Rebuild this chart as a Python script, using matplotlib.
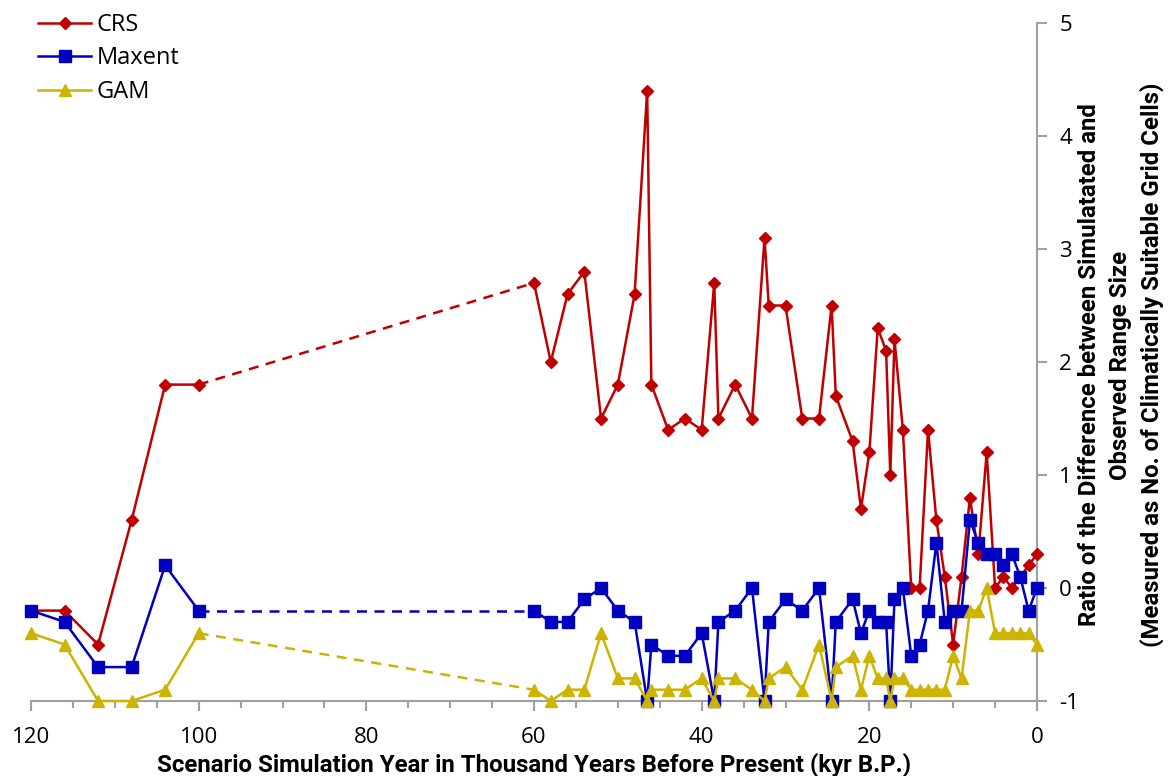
import matplotlib
matplotlib.use("Agg")
import matplotlib.pyplot as plt
import numpy as np

years = [120, 116, 112, 108, 104, 100, 60, 58, 56, 54, 52, 50, 48, 46.5, 46, 44, 42, 40,
         38.5, 38, 36, 34, 32.5, 32, 30, 28, 26, 24.5, 24, 22, 21, 20, 19, 18, 17.5, 17,
         16, 15, 14, 13, 12, 11, 10, 9, 8, 7, 6, 5, 4, 3, 2, 1, 0]

crs = [-0.2, -0.2, -0.5, 0.6, 1.8, 1.8, 2.7, 2.0, 2.6, 2.8, 1.5, 1.8, 2.6, 4.4, 1.8, 1.4, 1.5, 1.4,
       2.7, 1.5, 1.8, 1.5, 3.1, 2.5, 2.5, 1.5, 1.5, 2.5, 1.7, 1.3, 0.7, 1.2, 2.3, 2.1, 1.0, 2.2,
       1.4, 0.0, 0.0, 1.4, 0.6, 0.1, -0.5, 0.1, 0.8, 0.3, 1.2, 0.0, 0.1, 0.0, 0.1, 0.2, 0.3]

maxent = [-0.2, -0.3, -0.7, -0.7, 0.2, -0.2, -0.2, -0.3, -0.3, -0.1, 0.0, -0.2, -0.3, -1.0, -0.5, -0.6, -0.6, -0.4,
          -1.0, -0.3, -0.2, 0.0, -1.0, -0.3, -0.1, -0.2, 0.0, -1.0, -0.3, -0.1, -0.4, -0.2, -0.3, -0.3, -1.0, -0.1,
          0.0, -0.6, -0.5, -0.2, 0.4, -0.3, -0.2, -0.2, 0.6, 0.4, 0.3, 0.3, 0.2, 0.3, 0.1, -0.2, 0.0]

gam = [-0.4, -0.5, -1.0, -1.0, -0.9, -0.4, -0.9, -1.0, -0.9, -0.9, -0.4, -0.8, -0.8, -1.0, -0.9, -0.9, -0.9, -0.8,
       -1.0, -0.8, -0.8, -0.9, -1.0, -0.8, -0.7, -0.9, -0.5, -1.0, -0.7, -0.6, -0.9, -0.6, -0.8, -0.8, -1.0, -0.8,
       -0.8, -0.9, -0.9, -0.9, -0.9, -0.9, -0.6, -0.8, -0.2, -0.2, 0.0, -0.4, -0.4, -0.4, -0.4, -0.4, -0.5]

series_names = ["CRS", "Maxent", "GAM"]
x_ticks = [120, 100, 80, 60, 40, 20, 0]
y_ticks = [-1, 0, 1, 2, 3, 4, 5]

colors = {"CRS": "#C00000", "Maxent": "#0000C0", "GAM": "#CCB400"}
markers = {"CRS": ("D", 6.5), "Maxent": ("s", 8.5), "GAM": ("^", 9)}

plt.rcParams['font.family'] = ['Open Sans', 'DejaVu Sans']

fig = plt.figure(figsize=(11.72, 7.76), dpi=100)
ax = fig.add_axes([31 / 1172, 1 - 701 / 776, (1037 - 31) / 1172, (701 - 23) / 776])

yrs = np.array(years, dtype=float)
gap = int(np.argmax(np.abs(np.diff(yrs)) > 10))  # index before the gap

for name, vals in zip(series_names, [crs, maxent, gam]):
    v = np.array(vals, dtype=float)
    c = colors[name]
    m, ms = markers[name]
    ax.plot(yrs[:gap + 1], v[:gap + 1], color=c, lw=1.8, marker=m, ms=ms, clip_on=False, zorder=3)
    ax.plot(yrs[gap:gap + 2], v[gap:gap + 2], color=c, lw=1.8, ls=(0, (4, 3)), clip_on=False, zorder=2)
    ax.plot(yrs[gap + 1:], v[gap + 1:], color=c, lw=1.8, marker=m, ms=ms, clip_on=False, zorder=3,
            label=name)

ax.set_xlim(120, 0)
ax.set_ylim(-1, 5)
ax.set_xticks(x_ticks)
ax.set_xticks(np.arange(0, 121, 5), minor=True)
ax.set_yticks(y_ticks)

for s in ["top", "left"]:
    ax.spines[s].set_visible(False)
for s in ["bottom", "right"]:
    ax.spines[s].set_color("#A0A0A0")
    ax.spines[s].set_linewidth(1.5)

ax.yaxis.tick_right()
ax.tick_params(axis="both", which="both", color="#A0A0A0", width=1.5, labelsize=16, labelcolor="#000000")
ax.tick_params(axis="x", which="major", length=7, pad=12)
ax.tick_params(axis="x", which="minor", length=5)
ax.tick_params(axis="y", which="major", length=7, pad=9)
ax.set_yticklabels([str(t) for t in y_ticks])
ax.set_xticklabels([str(t) for t in x_ticks])

tfam = ['Roboto', 'DejaVu Sans']
ax.set_xlabel("Scenario Simulation Year in Thousand Years Before Present (kyr B.P.)",
              family=tfam, weight='bold', size=17.3, labelpad=3)
fig.text(1121 / 1172, 1 - 365 / 776,
         "Ratio of the Difference between Simulatated and\nObserved Range Size\n(Measured as No. of Climatically Suitable Grid Cells)",
         rotation=90, ha="center", va="center", multialignment="center", linespacing=1.4,
         family=tfam, weight="bold", size=17.3)

leg = ax.legend(loc="upper left", bbox_to_anchor=(38 / 1172, 1 - 13 / 776), bbox_transform=fig.transFigure,
                frameon=False, fontsize=17, handlelength=2.25, handletextpad=0.22, labelspacing=0.4,
                borderaxespad=0, borderpad=0)

fig.savefig("out.png", dpi=100)
